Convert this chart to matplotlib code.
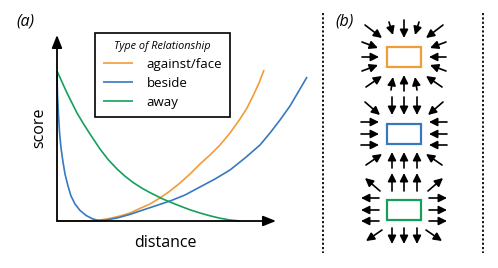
import matplotlib
matplotlib.use("Agg")
import matplotlib.pyplot as plt
from matplotlib.patches import Rectangle

plt.rcParams['font.family'] = ['Open Sans', 'DejaVu Sans']

# ---- panel (a) data ----
orange_d = [0, 1.15, 1.65, 2.15, 2.65, 3.15, 3.65, 4.15, 4.65, 5.15, 5.65, 6.15, 6.65, 7.15, 7.65,
            8.15, 8.65, 9.15, 9.5, 9.8, 10.1, 10.35]
orange_s = [0, 0, 0.01, 0.05, 0.13, 0.25, 0.4, 0.63, 0.85, 1.15, 1.5, 1.9, 2.35, 2.85, 3.3,
            3.8, 4.4, 5.1, 5.65, 6.25, 6.9, 7.55]

blue_d = [0, 0.025, 0.075, 0.125, 0.2, 0.3, 0.4, 0.55, 0.7, 0.9, 1.15, 1.45, 1.75, 2.05, 2.4, 3.0,
          3.65, 4.15, 4.9, 5.65, 6.4, 7.15, 7.9, 8.65, 9.4, 10.15, 10.65, 11.15, 11.65, 12.15, 12.5]
blue_s = [7.3, 6.3, 5.3, 4.45, 3.65, 2.95, 2.35, 1.75, 1.25, 0.85, 0.53, 0.28, 0.12, 0.03, 0.04, 0.15,
          0.33, 0.5, 0.75, 1.0, 1.3, 1.7, 2.1, 2.55, 3.15, 3.8, 4.4, 5.05, 5.75, 6.6, 7.2]

green_d = [0, 0.25, 0.5, 0.75, 1.0, 1.3, 1.65, 2.15, 2.55, 3.0, 3.4, 3.8, 4.25, 4.65, 5.25, 5.65,
           6.15, 6.65, 7.15, 7.65, 8.15, 8.65, 9.15]
green_s = [7.5, 6.95, 6.4, 5.9, 5.4, 4.9, 4.35, 3.6, 3.08, 2.6, 2.24, 1.93, 1.64, 1.42, 1.12, 0.95,
           0.75, 0.56, 0.4, 0.26, 0.14, 0.05, 0]

labels = ['against/face', 'beside', 'away']
colors = ['#f29c38', '#3878c0', '#14a05a']

# ---- panel (b): arrows around each box, offsets from box centre ----
inward = [((-39, -32), (-24, -19)), ((-12, -37), (-12, -19)), ((0, -37), (0, -19)), ((13, -37), (13, -19)),
          ((39, -32), (24, -19)),
          ((-43, -12), (-25, -12)), ((-43, 0), (-25, 0)), ((-43, 11), (-25, 11)),
          ((43, -12), (25, -12)), ((43, 0), (25, 0)), ((43, 11), (25, 11)),
          ((-38, 31), (-22, 20)), ((-12, 34), (-12, 18)), ((0, 34), (0, 18)), ((13, 34), (13, 18)),
          ((38, 31), (22, 20))]
fanned = [((-39, -32), (-22, -19)), ((-15, -35), (-11, -22)), ((0, -37), (0, -19)), ((15, -35), (11, -22)),
          ((39, -32), (22, -19)),
          ((-42, -15), (-26, -9)), ((-42, 0), (-25, 0)), ((-42, 14), (-26, 8)),
          ((42, -15), (26, -9)), ((42, 0), (25, 0)), ((42, 14), (26, 8)),
          ((-38, 30), (-22, 19)), ((-13, 33), (-11, 20)), ((0, 34), (0, 18)), ((13, 33), (11, 20)),
          ((38, 30), (22, 19))]
outward = [(h, t) for t, h in inward]

box_centres = [(404, 57), (404, 134), (404, 210)]
box_arrows = [fanned, inward, outward]

fig = plt.figure(figsize=(4.98, 2.68), dpi=100)

# overlay in pixel units
ov = fig.add_axes([0, 0, 1, 1])
ov.set_xlim(0, 498)
ov.set_ylim(268, 0)
ov.axis('off')

ax = fig.add_axes([57 / 498, 47 / 268, 219 / 498, 186 / 268])
ax.set_xlim(0, 10.95)
ax.set_ylim(0, 9.3)
ax.axis('off')

lines = []
for d, s, c in zip([orange_d, blue_d, green_d], [orange_s, blue_s, green_s], colors):
    ln, = ax.plot(d, s, color=c, lw=1.2, clip_on=False, solid_capstyle='butt')
    lines.append(ln)

axis_arrow = dict(arrowstyle='-|>,head_length=0.55,head_width=0.22', mutation_scale=14,
                  color='black', lw=1.3, shrinkA=0, shrinkB=0)
ax.annotate('', xy=(1, 0), xytext=(0, 0), xycoords='axes fraction', arrowprops=axis_arrow)
ax.annotate('', xy=(0, 1), xytext=(0, 0), xycoords='axes fraction', arrowprops=axis_arrow)

leg = fig.legend(lines, labels, title='Type of Relationship', loc='upper left',
                 bbox_to_anchor=(95 / 498, 1 - 33 / 268), borderaxespad=0, fontsize=9.5,
                 title_fontproperties={'style': 'italic', 'size': 7.8},
                 handlelength=2.3, handletextpad=1.0, labelspacing=0.45,
                 borderpad=0.6, fancybox=False, framealpha=1, edgecolor='black')
leg.get_frame().set_linewidth(1.2)

ov.text(25, 22, '(a)', fontsize=11.5, style='italic', ha='center', va='center')
ov.text(165, 243, 'distance', fontsize=11.5, ha='center', va='center')
ov.text(39, 128, 'score', fontsize=11.5, rotation=90, ha='center', va='center')

# ---- panel (b) ----
ov.text(344, 22, '(b)', fontsize=11.5, style='italic', ha='center', va='center')
for x in [323, 483]:
    ov.plot([x, x], [13, 253], color='black', lw=1.3, ls=(0, (1.2, 1.2)))

small_arrow = dict(arrowstyle='-|>,head_length=0.7,head_width=0.35', mutation_scale=7,
                   color='black', lw=1.2, shrinkA=0, shrinkB=0)
for (cx, cy), arrows, c in zip(box_centres, box_arrows, colors):
    ov.add_patch(Rectangle((cx - 17, cy - 10), 34, 20, fill=False, edgecolor=c, lw=1.6))
    for (tx, ty), (hx, hy) in arrows:
        ov.annotate('', xy=(cx + hx, cy + hy), xytext=(cx + tx, cy + ty), arrowprops=small_arrow)

fig.savefig('out.png', dpi=100)
